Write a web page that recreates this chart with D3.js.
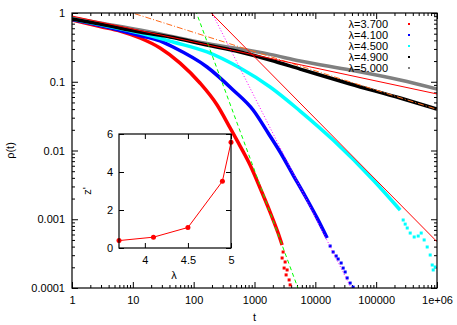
<!DOCTYPE html>
<html>
<head>
<meta charset="utf-8">
<script src="https://cdn.jsdelivr.net/npm/d3@7"></script>
<style>
  body { margin: 0; background: #fff; }
  text { font-family: "Liberation Sans", Arial, sans-serif; font-size: 11px; fill: #000; }
</style>
</head>
<body>
<div id="chart-area"></div>
<script>
// ---- data ----
var lambdas = [3.7, 4.1, 4.5, 4.9, 5.0];
var colors = ['#ff0000', '#0000ff', '#00ffff', '#000000', '#808080'];

// smooth part of each decay curve
var redT = [1, 2.89, 6.16, 13.1, 28, 59.8, 127, 243, 397, 580, 846, 1236, 1805, 2444, 2844];
var redRho = [0.791, 0.636, 0.547, 0.433, 0.31, 0.187, 0.0959, 0.0459, 0.0213, 0.0116, 0.00615, 0.00285, 0.00127, 0.00063, 0.000422];
var blueT = [1, 2.89, 13.1, 28, 45.8, 166, 445, 948, 1674, 2637, 4314, 6796, 10710, 15640];
var blueRho = [0.804, 0.658, 0.47, 0.392, 0.32, 0.164, 0.0759, 0.0388, 0.018, 0.00951, 0.0044, 0.00218, 0.00104, 0.000534];
var cyanT = [1, 2.89, 13.1, 45.8, 166, 580, 1805, 5623, 19620, 89260, 248100];
var cyanRho = [0.818, 0.68, 0.512, 0.379, 0.271, 0.158, 0.0839, 0.0375, 0.0142, 0.00372, 0.00136];
var blackT = [1, 2.89, 13.1, 40.9, 166, 580, 1805, 5623, 37360, 248100, 1000000];
var blackRho = [0.818, 0.692, 0.529, 0.448, 0.342, 0.271, 0.207, 0.153, 0.0927, 0.058, 0.0401];
var grayT = [1, 2.89, 13.1, 166, 1805, 5623, 37360, 248100, 1000000];
var grayRho = [0.846, 0.715, 0.566, 0.36, 0.25, 0.2, 0.148, 0.106, 0.0784];

// noisy tails, scattered points
var redTailT = [2954, 2844, 3187, 3068, 3437, 3309, 3708, 3851];
var redTailRho = [0.000334, 0.000273, 0.000239, 0.000195, 0.000183, 0.000155, 0.000131, 0.000111];
var blueTailT = [17520, 19620, 21990, 23710, 26570, 28660, 30920, 33340, 37360, 41850];
var blueTailRho = [0.000408, 0.000334, 0.000292, 0.000264, 0.000231, 0.000195, 0.000171, 0.00014, 0.000118, 0.000103];
var cyanTailT = [278000, 300000, 324000, 362600, 421700, 491000, 550000, 615000, 690000, 773000, 834000, 866000, 934000];
var cyanTailRho = [0.000975, 0.00085, 0.000746, 0.00063, 0.000552, 0.00057, 0.00063, 0.0005, 0.000395, 0.000302, 0.000216, 0.000183, 0.000202];

// power-law fits rho = A * t^-b
var fitA = [81700, 10700, 112, 1.9, 0.904];
var fitB = [2.4, 1.75, 0.896, 0.28, 0.189];
var fitColors = ['#00ff00', '#ff00ff', '#ff0000', '#ff6a1a', '#ff0000'];
var fitDash = ['4,3', '1,2', null, '6,2,1,2', null];

// inset: exponent z' versus lambda
var insetLambda = [3.7, 4.1, 4.5, 4.9, 5.0];
var insetZ = [0.39, 0.57, 1.08, 3.51, 5.56];

var xTicks = [1, 10, 100, 1000, 10000, 100000, 1000000];
var xTickLabels = ['1', '10', '100', '1000', '10000', '100000', '1e+06'];
var yTicks = [0.0001, 0.001, 0.01, 0.1, 1];
var yTickLabels = ['0.0001', '0.001', '0.01', '0.1', '1'];

// ---- layout ----
var W = 457, H = 325;
var plot = { left: 72, right: 437, top: 13, bottom: 288 };

var svg = d3.select('#chart-area')
  .append('svg')
  .attr('width', W)
  .attr('height', H);

var x = d3.scaleLog().domain([1, 1e6]).range([plot.left, plot.right]);
var y = d3.scaleLog().domain([1e-4, 1]).range([plot.bottom, plot.top]);

svg.append('clipPath').attr('id', 'clip')
  .append('rect')
  .attr('x', plot.left).attr('y', plot.top)
  .attr('width', plot.right - plot.left).attr('height', plot.bottom - plot.top);

// minor tick positions
var xMinor = [];
xTicks.slice(0, -1).forEach(function(d) {
  for (var k = 2; k < 10; k++) xMinor.push(d * k);
});
var yMinor = [];
yTicks.slice(0, -1).forEach(function(d) {
  for (var k = 2; k < 10; k++) yMinor.push(d * k);
});

function drawAxis(axis, tx, ty) {
  var g = svg.append('g')
    .attr('transform', 'translate(' + tx + ',' + ty + ')')
    .call(axis);
  g.select('.domain').remove();
  g.selectAll('text').attr('fill', '#000').attr('font-family', null).attr('font-size', null);
  g.selectAll('line').attr('stroke', '#000');
  return g;
}

// major + minor, all four sides, ticks pointing in
drawAxis(d3.axisBottom(x).tickValues(xTicks).tickSizeInner(-6).tickSizeOuter(0).tickPadding(8)
  .tickFormat(function(d, i) { return xTickLabels[i]; }), 0, plot.bottom);
drawAxis(d3.axisBottom(x).tickValues(xMinor).tickSizeInner(-3).tickSizeOuter(0).tickFormat(''), 0, plot.bottom);
drawAxis(d3.axisTop(x).tickValues(xTicks).tickSizeInner(-6).tickSizeOuter(0).tickFormat(''), 0, plot.top);
drawAxis(d3.axisTop(x).tickValues(xMinor).tickSizeInner(-3).tickSizeOuter(0).tickFormat(''), 0, plot.top);

drawAxis(d3.axisLeft(y).tickValues(yTicks).tickSizeInner(-6).tickSizeOuter(0).tickPadding(7)
  .tickFormat(function(d, i) { return yTickLabels[i]; }), plot.left, 0);
drawAxis(d3.axisLeft(y).tickValues(yMinor).tickSizeInner(-3).tickSizeOuter(0).tickFormat(''), plot.left, 0);
drawAxis(d3.axisRight(y).tickValues(yTicks).tickSizeInner(-6).tickSizeOuter(0).tickFormat(''), plot.right, 0);
drawAxis(d3.axisRight(y).tickValues(yMinor).tickSizeInner(-3).tickSizeOuter(0).tickFormat(''), plot.right, 0);

// axis labels
svg.append('text')
  .attr('x', (plot.left + plot.right) / 2)
  .attr('y', 321)
  .attr('text-anchor', 'middle')
  .attr('font-size', '12px')
  .text('t');

svg.append('text')
  .attr('transform', 'translate(14,' + (plot.top + plot.bottom) / 2 + ') rotate(-90)')
  .attr('text-anchor', 'middle')
  .text('ρ(t)');

// ---- curves ----
var curves = svg.append('g').attr('clip-path', 'url(#clip)');

var line = d3.line()
  .x(function(d) { return x(d[0]); })
  .y(function(d) { return y(d[1]); })
  .curve(d3.curveMonotoneX);

var smooth = [
  d3.zip(redT, redRho), d3.zip(blueT, blueRho), d3.zip(cyanT, cyanRho),
  d3.zip(blackT, blackRho), d3.zip(grayT, grayRho)
];
var tails = [d3.zip(redTailT, redTailRho), d3.zip(blueTailT, blueTailRho), d3.zip(cyanTailT, cyanTailRho), [], []];

// gray first so black sits on it where they overlap
[4, 0, 1, 2, 3].forEach(function(i) {
  curves.append('path')
    .datum(smooth[i])
    .attr('d', line)
    .attr('fill', 'none')
    .attr('stroke', colors[i])
    .attr('stroke-width', 3.5);

  curves.selectAll('.tail' + i)
    .data(tails[i])
    .enter()
    .append('rect')
      .attr('class', 'tail' + i)
      .attr('x', function(d) { return x(d[0]) - 1.5; })
      .attr('y', function(d) { return y(d[1]) - 1.5; })
      .attr('width', 3)
      .attr('height', 3)
      .attr('fill', colors[i]);
});

// fits
fitA.forEach(function(A, i) {
  var pts = [1, 1e6].map(function(t) { return [t, A * Math.pow(t, -fitB[i])]; });
  curves.append('path')
    .datum(pts)
    .attr('d', d3.line().x(function(d) { return x(d[0]); }).y(function(d) { return y(d[1]); }))
    .attr('fill', 'none')
    .attr('stroke', fitColors[i])
    .attr('stroke-width', 1)
    .attr('stroke-dasharray', fitDash[i]);
});

// frame
svg.append('rect')
  .attr('x', plot.left).attr('y', plot.top)
  .attr('width', plot.right - plot.left).attr('height', plot.bottom - plot.top)
  .attr('fill', 'none')
  .attr('stroke', '#000')
  .attr('stroke-width', 1.2);

// ---- legend ----
var legend = svg.append('g');
lambdas.forEach(function(l, i) {
  legend.append('text')
    .attr('x', 388)
    .attr('y', 24 + i * 11)
    .attr('dy', '0.35em')
    .attr('text-anchor', 'end')
    .text('λ=' + d3.format('.3f')(l));
  legend.append('rect')
    .attr('x', 408).attr('y', 23 + i * 11)
    .attr('width', 2).attr('height', 2)
    .attr('fill', colors[i]);
});

// ---- inset ----
var inset = { left: 119, right: 231, top: 134, bottom: 248 };
var xi = d3.scaleLinear().domain([3.7, 5]).range([inset.left, inset.right]);
var yi = d3.scaleLinear().domain([0, 6]).range([inset.bottom, inset.top]);

svg.append('rect')
  .attr('x', inset.left).attr('y', inset.top)
  .attr('width', inset.right - inset.left).attr('height', inset.bottom - inset.top)
  .attr('fill', '#fff');

drawAxis(d3.axisBottom(xi).tickValues([4, 4.5, 5]).tickSizeInner(-5).tickSizeOuter(0).tickPadding(8)
  .tickFormat(d3.format('')), 0, inset.bottom);
drawAxis(d3.axisTop(xi).tickValues([4, 4.5, 5]).tickSizeInner(-5).tickSizeOuter(0).tickFormat(''), 0, inset.top);
drawAxis(d3.axisLeft(yi).tickValues([0, 2, 4, 6]).tickSizeInner(-5).tickSizeOuter(0).tickPadding(6)
  .tickFormat(d3.format('')), inset.left, 0);
drawAxis(d3.axisRight(yi).tickValues([0, 2, 4, 6]).tickSizeInner(-5).tickSizeOuter(0).tickFormat(''), inset.right, 0);

var insetPts = d3.zip(insetLambda, insetZ);
svg.append('path')
  .datum(insetPts)
  .attr('d', d3.line().x(function(d) { return xi(d[0]); }).y(function(d) { return yi(d[1]); }))
  .attr('fill', 'none')
  .attr('stroke', '#ff0000')
  .attr('stroke-width', 1);

svg.selectAll('.ipt')
  .data(insetPts)
  .enter()
  .append('circle')
    .attr('class', 'ipt')
    .attr('cx', function(d) { return xi(d[0]); })
    .attr('cy', function(d) { return yi(d[1]); })
    .attr('r', 2.5)
    .attr('fill', '#ff0000');

svg.append('rect')
  .attr('x', inset.left).attr('y', inset.top)
  .attr('width', inset.right - inset.left).attr('height', inset.bottom - inset.top)
  .attr('fill', 'none')
  .attr('stroke', '#000')
  .attr('stroke-width', 1.2);

svg.append('text')
  .attr('x', (inset.left + inset.right) / 2 - 1)
  .attr('y', 279)
  .attr('text-anchor', 'middle')
  .text('λ');

svg.append('text')
  .attr('transform', 'translate(91,' + (inset.top + inset.bottom) / 2 + ') rotate(-90)')
  .attr('text-anchor', 'middle')
  .text("z'");
</script>
</body>
</html>
